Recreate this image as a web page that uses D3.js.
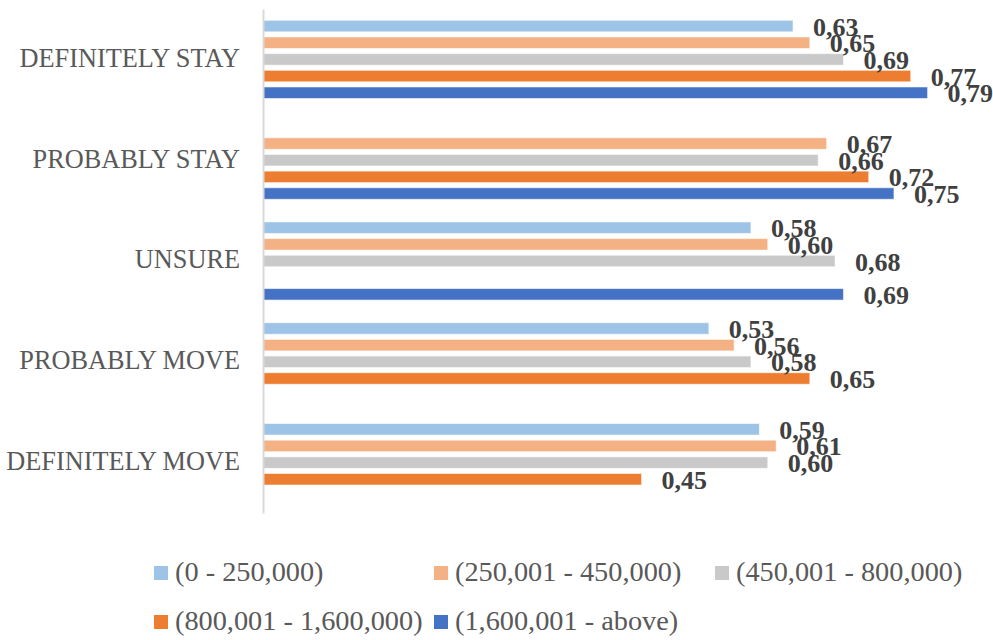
<!DOCTYPE html>
<html>
<head>
<meta charset="utf-8">
<script src="https://cdn.jsdelivr.net/npm/d3@7"></script>
<style>
  html, body { margin: 0; padding: 0; background: #ffffff; }
  svg { display: block; font-family: "Liberation Serif", "Times New Roman", serif; }
</style>
</head>
<body>
<svg id="chart" width="993" height="640"></svg>
<script>
const categories = ["DEFINITELY STAY", "PROBABLY STAY", "UNSURE", "PROBABLY MOVE", "DEFINITELY MOVE"];
const seriesNames = ["(0 - 250,000)", "(250,001 - 450,000)", "(450,001 - 800,000)", "(800,001 - 1,600,000)", "(1,600,001 - above)"];
const seriesColors = ["#9DC3E6", "#F4B183", "#C9C9C9", "#ED7D31", "#4472C4"];
const s1 = [0.63, null, 0.58, 0.53, 0.59];
const s2 = [0.65, 0.67, 0.60, 0.56, 0.61];
const s3 = [0.69, 0.66, 0.68, 0.58, 0.60];
const s4 = [0.77, 0.72, null, 0.65, 0.45];
const s5 = [0.79, 0.75, 0.69, null, null];
const seriesValues = [s1, s2, s3, s4, s5];

const svg = d3.select("#chart");

const x = d3.scaleLinear().domain([0, 0.8]).range([263, 936]);
const y = d3.scaleBand().domain(categories).range([9, 513]).paddingInner(0).paddingOuter(0);
const ySub = d3.scaleBand().domain(seriesNames).range([0, y.bandwidth()]).paddingInner(0.31).paddingOuter(0.68);

const fmt = v => d3.format(".2f")(v).replace(".", ",");

// bars
const rows = [];
categories.forEach((c, ci) => {
  seriesNames.forEach((s, si) => {
    const v = seriesValues[si][ci];
    if (v !== null && v !== undefined) rows.push({ c, s, si, v });
  });
});

svg.append("g").selectAll("rect").data(rows).join("rect")
  .attr("x", x(0))
  .attr("y", d => y(d.c) + ySub(d.s))
  .attr("width", d => x(d.v) - x(0))
  .attr("height", ySub.bandwidth())
  .attr("fill", d => seriesColors[d.si])
  .attr("stroke", "rgba(255,255,255,0.55)")
  .attr("stroke-width", 1);

// category axis
const axis = svg.append("g")
  .attr("transform", `translate(${x(0)},0)`)
  .call(d3.axisLeft(y).tickSize(0).tickSizeOuter(0).tickPadding(23));
axis.select(".domain").attr("stroke", "#D9D9D9").attr("stroke-width", 2);
axis.selectAll(".tick text")
  .attr("font-family", "'Liberation Serif', 'Times New Roman', serif")
  .attr("font-size", 26.3)
  .attr("fill", "#595959")
  .attr("dy", "0.28em");

// data labels
svg.append("g").selectAll("text").data(rows).join("text")
  .attr("x", d => x(d.v) + 20)
  .attr("y", d => y(d.c) + ySub(d.s) + ySub.bandwidth() / 2 + 9.5)
  .attr("font-size", 26)
  .attr("font-weight", "bold")
  .attr("fill", "#404040")
  .text(d => fmt(d.v));

// legend
const legendCols = [154, 434, 715];
const legendRows = [581, 630];
const legend = svg.append("g").selectAll("g").data(seriesNames).join("g")
  .attr("transform", (d, i) => `translate(${legendCols[i % 3]},${legendRows[Math.floor(i / 3)]})`);
legend.append("rect")
  .attr("x", 0).attr("y", -15).attr("width", 14).attr("height", 14)
  .attr("fill", (d, i) => seriesColors[i]);
legend.append("text")
  .attr("x", 21).attr("y", 0)
  .attr("font-size", 28.3)
  .attr("fill", "#595959")
  .text(d => d);
</script>
</body>
</html>
